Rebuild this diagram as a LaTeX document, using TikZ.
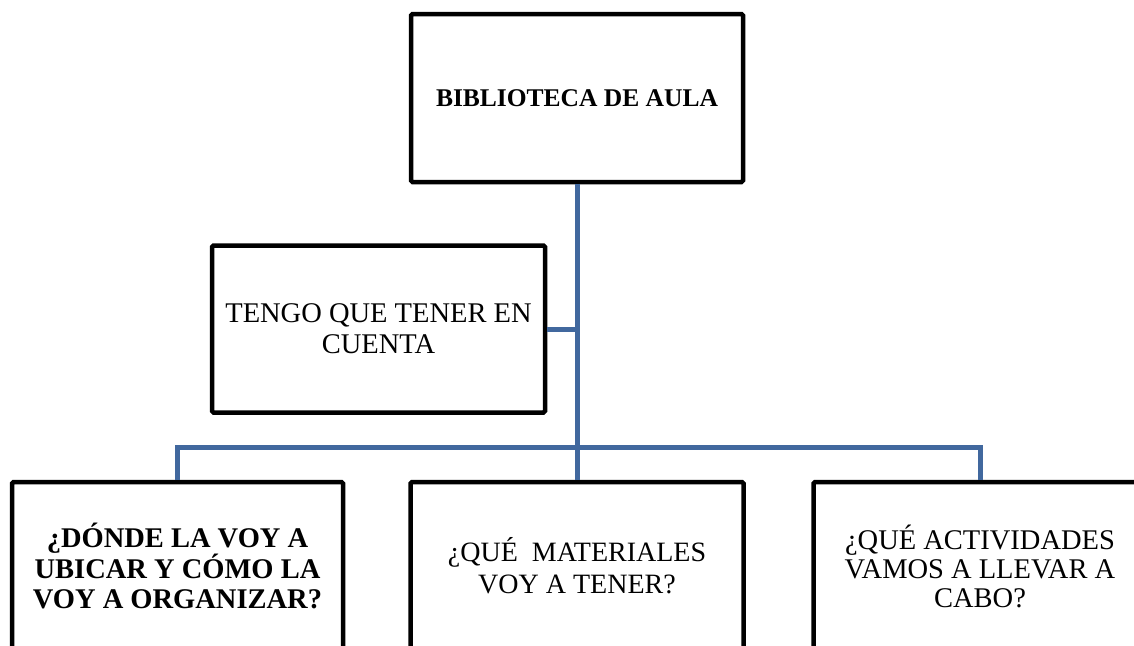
\documentclass[tikz,border=0pt]{standalone}
\usepackage{fontspec}
\setmainfont{Liberation Serif}
\definecolor{conn}{HTML}{41689E}
\tikzset{
  boxnode/.style={draw=black, line width=4.5pt, fill=white, rounded corners=1.5pt,
    inner sep=0pt, align=center, text=black},
  connline/.style={draw=conn, line width=5pt},
}
\begin{document}
\begin{tikzpicture}[x=1pt,y=-1pt]
\useasboundingbox (0,0) rectangle (1134,645);
\fill[white] (0,0) rectangle (1134,645);
\clip (0,0) rectangle (1134,645);
\node[boxnode, minimum width=332pt, minimum height=168pt] (top) at (577,98)
  {\fontsize{25.5}{28}\selectfont\bfseries BIBLIOTECA DE AULA};
\node[boxnode, minimum width=333pt, minimum height=167pt,
  font=\fontsize{28.5}{31}\selectfont] (left) at (378.5,329)
  {TENGO QUE TENER EN\\CUENTA};
\node[boxnode, minimum width=331pt, minimum height=168pt,
  font=\fontsize{28.5}{30}\selectfont\bfseries] (b1) at (177.5,566)
  {¿DÓNDE LA VOY A\\UBICAR Y CÓMO LA\\VOY A ORGANIZAR?};
\node[boxnode, minimum width=333pt, minimum height=168pt,
  font=\fontsize{28}{32}\selectfont] (b2) at (577,566)
  {¿QUÉ\ \ MATERIALES\\VOY A TENER?};
\node[boxnode, minimum width=333pt, minimum height=168pt,
  font=\fontsize{28.5}{29}\selectfont] (b3) at (980,566)
  {¿QUÉ ACTIVIDADES\\VAMOS A LLEVAR A\\CABO?};
\coordinate (j) at (577,447);
\draw[connline] (top.south) -- (j);
\draw[connline] (left.east) -- (left.east -| top.south);
\draw[connline] (b1.north) |- (j) -| (b3.north);
\draw[connline] (j) -- (b2.north);
\end{tikzpicture}
\end{document}
